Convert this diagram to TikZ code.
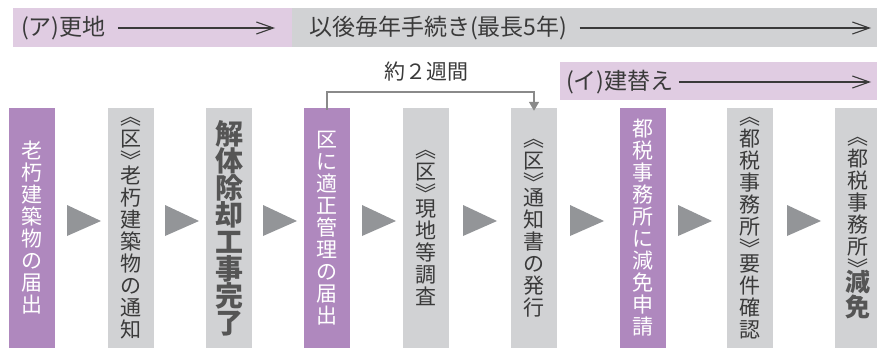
\documentclass[tikz,border=0pt]{standalone}
\usepackage{fontspec}
\newfontfamily\jp{Noto Sans CJK JP}
\usetikzlibrary{arrows.meta}
\definecolor{pinkbar}{HTML}{E0CCE2}
\definecolor{graybar}{HTML}{D1D2D4}
\definecolor{purplebox}{HTML}{AF88BE}
\definecolor{trigray}{HTML}{939598}
\definecolor{txt}{HTML}{3A3A3A}
\definecolor{boldtxt}{HTML}{555555}
\definecolor{brk}{HTML}{8A8A8A}
\newcommand\bdch[1]{{\color{boldtxt}\bfseries\fontsize{25}{25}\selectfont #1}}
\begin{document}
\begin{tikzpicture}[x=1pt,y=-1pt,
  stepbox/.style={minimum width=46pt, minimum height=240pt, inner sep=0pt, align=center,
    font=\jp\fontsize{21}{22}\selectfont},
  pbox/.style={stepbox, fill=purplebox, text=white},
  gbox/.style={stepbox, fill=graybar, text=txt},
  boldbox/.style={gbox, text=boldtxt, font=\jp\bfseries\fontsize{28}{27}\selectfont},
  bartext/.style={font=\jp\fontsize{23}{24}\selectfont, text=txt, inner sep=0pt, anchor=west},
  bararrow/.style={draw=txt, line width=1.1pt, -{Straight Barb[length=17pt,width=12pt]}},
  bracket/.style={draw=brk, line width=1.5pt, -{Triangle[length=9pt,width=10pt]}},
  tri/.style={fill=trigray}
]
\useasboundingbox (0,0) rectangle (877,348);
\clip (0,0) rectangle (877,348);

% top bars
\fill[pinkbar] (13,8) rectangle (292,47);
\fill[graybar] (292,8) rectangle (877,47);
\fill[pinkbar] (560,62) rectangle (877,100);

\node[bartext] (ta) at (21,28) {(ア)更地};
\coordinate (ea) at (275,28);
\draw[bararrow] ([xshift=12pt]ta.east) -- (ea);

\node[bartext] (tb) at (309,28) {以後毎年手続き(最長5年)};
\coordinate (eb) at (871,28);
\draw[bararrow] ([xshift=12pt]tb.east) -- (eb);

\node[bartext] (tc) at (566,82) {(イ)建替え};
\coordinate (ec) at (871,82);
\draw[bararrow] ([xshift=5pt]tc.east) -- (ec);

% step boxes
\node[pbox] (b1) at (32,228) {老\\朽\\建\\築\\物\\の\\届\\出};
\node[gbox] (b2) at (131,228) {︽\\区\\︾\\[-7pt]老\\朽\\建\\築\\物\\の\\通\\知};
\node[boldbox] (b3) at (229,228) {解\\体\\除\\却\\工\\事\\完\\了};
\node[pbox] (b4) at (327,228) {区\\に\\適\\正\\管\\理\\の\\届\\出};
\node[gbox] (b5) at (426,228) {︽\\区\\︾\\[-7pt]現\\地\\等\\調\\査};
\node[gbox] (b6) at (534,228) {︽\\区\\︾\\[-7pt]通\\知\\書\\の\\発\\行};
\node[pbox] (b7) at (642.5,228) {都\\税\\事\\務\\所\\に\\減\\免\\申\\請};
\node[gbox] (b8) at (750,228) {︽\\都\\税\\事\\務\\所\\︾\\[-7pt]要\\件\\確\\認};
\node[gbox] (b9) at (858,228) {︽\\都\\税\\事\\務\\所\\︾\\[-7pt]\bdch{減}\\\bdch{免}};

% triangles
\foreach \x in {67,165,263,362,463,570,678,787}
  \fill[tri] (\x,205) -- (\x+34,221) -- (\x,236) -- cycle;

% about 2 weeks
\node[font=\jp\fontsize{21}{22}\selectfont, text=txt, inner sep=0pt] (twoweeks) at (426,72) {約２週間};
\draw[bracket] ([yshift=-2pt]b4.north) -- ++(0,-18) -| ([yshift=-3pt]b6.north);
\end{tikzpicture}
\end{document}
